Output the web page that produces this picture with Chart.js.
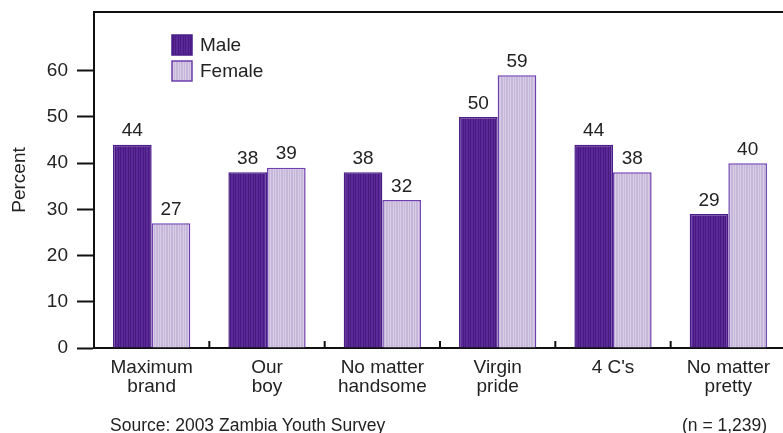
<!DOCTYPE html>
<html>
<head>
<meta charset="utf-8">
<script src="https://cdn.jsdelivr.net/npm/chart.js@4.4.1/dist/chart.umd.min.js"></script>
<style>
  html, body { margin: 0; padding: 0; background: #fff; overflow: hidden; }
  #wrap { position: relative; width: 786px; height: 433px; }
  .note { position: absolute; top: 415px; font: 17.5px "Liberation Sans", Arial, sans-serif; color: #222; }
</style>
</head>
<body>
<div id="wrap">
  <canvas id="chart" width="786" height="433"></canvas>
  <div class="note" style="left:110px">Source: 2003 Zambia Youth Survey</div>
  <div class="note" style="left:682px">(n = 1,239)</div>
</div>
<script>
const categories = [
  ['Maximum', 'brand'],
  ['Our', 'boy'],
  ['No matter', 'handsome'],
  ['Virgin', 'pride'],
  ['4 C\'s'],
  ['No matter', 'pretty']
];
const maleValues = [44, 38, 38, 50, 44, 29];
const femaleValues = [27, 39, 32, 59, 38, 40];
const yTicks = [0, 10, 20, 30, 40, 50, 60];

const FONT = '"Liberation Sans", Arial, sans-serif';

// striped fill like the printed bars
function stripes(base, stripe) {
  const c = document.createElement('canvas');
  c.width = 5;
  c.height = 1;
  const g = c.getContext('2d');
  g.fillStyle = base;
  g.fillRect(0, 0, 5, 1);
  g.fillStyle = stripe;
  g.fillRect(0, 0, 1, 1);
  g.fillRect(3, 0, 1, 1);
  return g.createPattern(c, 'repeat');
}

const maleFill = stripes('#5a2a98', '#48197f');
const femaleFill = stripes('#c6b7da', '#d8cde6');

// values above each bar
const valueLabels = {
  id: 'valueLabels',
  afterDatasetsDraw(chart) {
    const ctx = chart.ctx;
    ctx.save();
    ctx.font = '19px ' + FONT;
    ctx.fillStyle = '#222';
    ctx.textAlign = 'center';
    ctx.textBaseline = 'bottom';
    chart.data.datasets.forEach((ds, i) => {
      chart.getDatasetMeta(i).data.forEach((bar, j) => {
        ctx.fillText(ds.data[j], bar.x, bar.y - 4);
      });
    });
    ctx.restore();
  }
};

// top frame line, inner ticks between categories, legend box
const frame = {
  id: 'frame',
  afterDraw(chart) {
    const ctx = chart.ctx;
    const area = chart.chartArea;
    const x = chart.scales.x;
    ctx.save();
    ctx.strokeStyle = '#111';
    ctx.lineWidth = 2;
    ctx.beginPath();
    ctx.moveTo(area.left - 1, area.top);
    ctx.lineTo(area.right, area.top);
    for (let i = 0; i < categories.length - 1; i++) {
      const bx = (x.getPixelForValue(i) + x.getPixelForValue(i + 1)) / 2;
      ctx.moveTo(bx, area.bottom);
      ctx.lineTo(bx, area.bottom - 7);
    }
    ctx.stroke();

    // legend
    const lx = area.left + 78;
    let ly = area.top + 23;
    ctx.font = '19px ' + FONT;
    ctx.textBaseline = 'middle';
    chart.data.datasets.forEach(ds => {
      ctx.fillStyle = ds.backgroundColor;
      ctx.fillRect(lx, ly, 20, 20);
      ctx.strokeStyle = ds.borderColor;
      ctx.lineWidth = 1.5;
      ctx.strokeRect(lx, ly, 20, 20);
      ctx.fillStyle = '#222';
      ctx.fillText(ds.label, lx + 28, ly + 11);
      ly += 26;
    });
    ctx.restore();
  }
};

new Chart(document.getElementById('chart'), {
  type: 'bar',
  data: {
    labels: categories,
    datasets: [
      {
        label: 'Male',
        data: maleValues,
        backgroundColor: maleFill,
        borderColor: '#4a1c88',
        borderWidth: 1.5,
        borderSkipped: 'bottom'
      },
      {
        label: 'Female',
        data: femaleValues,
        backgroundColor: femaleFill,
        borderColor: '#6e3fae',
        borderWidth: 1.5,
        borderSkipped: 'bottom'
      }
    ]
  },
  options: {
    responsive: false,
    animation: false,
    layout: { padding: { top: 12, left: 0, right: 0, bottom: 0 } },
    plugins: {
      legend: { display: false },
      tooltip: { enabled: false }
    },
    datasets: {
      bar: { categoryPercentage: 0.67, barPercentage: 1.0 }
    },
    scales: {
      x: {
        grid: { display: false },
        border: { display: true, color: '#111', width: 2 },
        ticks: {
          color: '#222',
          padding: 2,
          maxRotation: 0,
          autoSkip: false,
          font: { family: FONT, size: 19, lineHeight: 1.0 }
        },
        afterFit(scale) {
          scale.height = 85;
          scale.paddingLeft = 0;
          scale.paddingRight = 0;
        }
      },
      y: {
        min: 0,
        max: 72.7,
        grid: {
          drawOnChartArea: false,
          drawTicks: true,
          tickLength: 17,
          tickWidth: 2,
          tickColor: '#111'
        },
        border: { display: true, color: '#111', width: 2 },
        ticks: {
          stepSize: 10,
          color: '#222',
          padding: 9,
          font: { family: FONT, size: 19 }
        },
        afterBuildTicks(scale) {
          scale.ticks = yTicks.map(v => ({ value: v }));
        },
        title: {
          display: true,
          text: 'Percent',
          color: '#222',
          padding: { top: 8, bottom: 0 },
          font: { family: FONT, size: 19 }
        },
        afterFit(scale) {
          scale.width = 94;
          scale.paddingTop = 0;
          scale.paddingBottom = 0;
        }
      }
    }
  },
  plugins: [valueLabels, frame]
});
</script>
</body>
</html>
